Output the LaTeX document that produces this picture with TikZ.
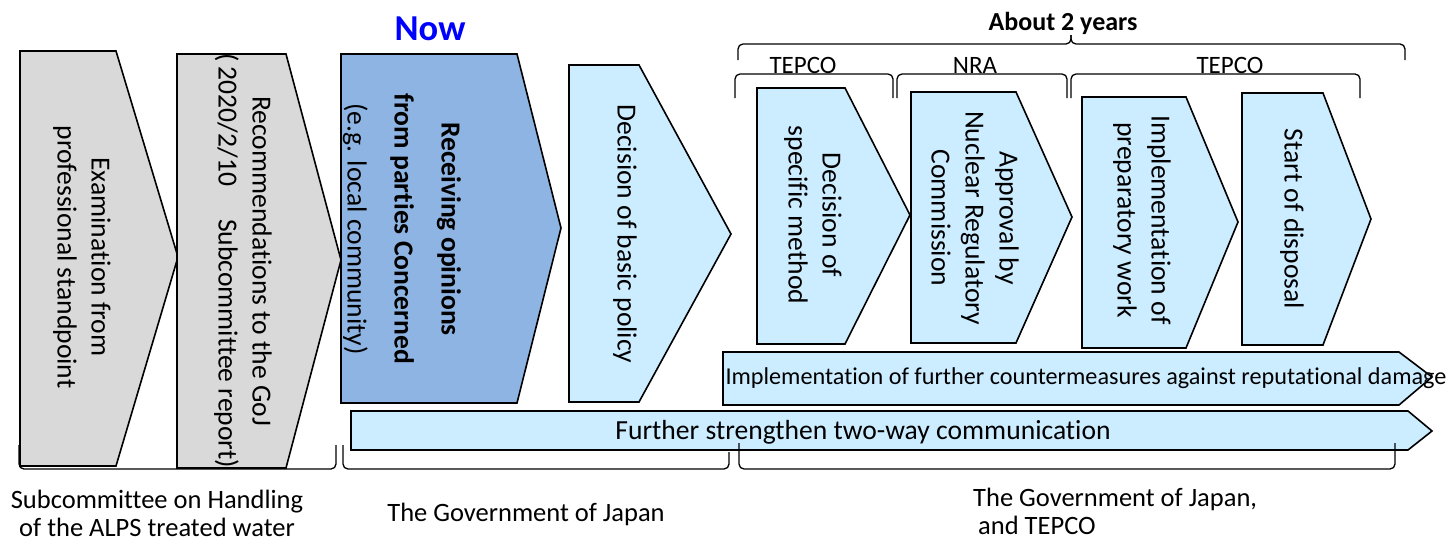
\documentclass[tikz,border=0pt]{standalone}
\usepackage{fontspec}
\setmainfont{Carlito}[Ligatures=NoCommon]
\usepackage{xcolor}
\definecolor{chevgrey}{HTML}{D9D9D9}
\definecolor{chevdark}{HTML}{8DB4E2}
\definecolor{chevlight}{HTML}{CCECFF}
\definecolor{nowblue}{HTML}{0000FF}
\tikzset{chevron/.style={draw=black, line width=1.6pt, line join=miter},
 vtext/.style={rotate=-90, align=center, inner sep=0pt, font=\fontsize{27.6}{34}\selectfont},
 htext/.style={inner sep=0pt, anchor=base, font=\fontsize{27.6}{33}\selectfont},
 whotext/.style={inner sep=0pt, font=\fontsize{26.5}{28}\selectfont},
 partytext/.style={inner sep=0pt, anchor=base, font=\fontsize{25}{30}\selectfont},
 brkt/.style={draw=black, line width=1.3pt, rounded corners=5pt},
 }

\begin{document}
\begin{tikzpicture}[x=1pt, y=-1pt]
        \useasboundingbox (0,0) rectangle (1452,541);
        \foreach \l/\t/\b/\p/\m/\d/\c in {20/51/116/178/257/466/chevgrey,
            177/54/286/341/260/468/chevgrey, 341/54/517/561/228/403/chevdark,
            569/65/639/731/234/402/chevlight, 757/88/845/910/215/344/chevlight,
            911/92/1016/1072/217/343/chevlight, 1082/97/1186/1238/222/348/chevlight,
            1242/93/1323/1371/219/345/chevlight} {
            \draw[chevron, fill=\c] (\l,\t) -- (\b,\t) -- (\p,\m) -- (\b,\d) -- (\l,\d) -- cycle;
        }
        \draw[chevron, fill=chevlight] (723,352) -- (1399,352) -- (1432,377) -- (1399,405) -- (723,405) -- cycle;
        \draw[chevron, fill=chevlight] (351,411) -- (1408,411) -- (1432,431) -- (1408,450) -- (351,450) -- cycle;
        \node[vtext] (exam) at (82,257) {Examination from\\professional standpoint};
        \node[vtext] (recom) at (243,261) {Recommendations to the GoJ\\(\,2020/2/10\hspace{1.2em}Subcommittee report)};
        \node[vtext, font=\bfseries\fontsize{27.6}{47}\selectfont] (opin) at (402,229) {Receiving opinions\\from parties Concerned\\\mdseries(e.g. local community)};
        \node[vtext] (basic) at (625,234) {Decision of basic policy};
        \node[vtext] (method) at (813,215) {Decision of\\specific method};
        \node[vtext] (approval) at (975,218) {Approval by\\Nuclear Regulatory\\Commission};
        \node[vtext] (prep) at (1142,220) {Implementation of\\preparatory work};
        \node[vtext] (start) at (1292,219) {Start of disposal};
        \node[htext, font=\fontsize{24.2}{29}\selectfont] (rumor) at (1086,384) {Implementation of further countermeasures against reputational damage};
        \node[htext] (comm) at (863,439) {Further strengthen two-way communication};
        \node[htext, text=nowblue, font=\bfseries\fontsize{36.5}{40}\selectfont] (now) at (430,40) {Now};
        \node[partytext, font=\bfseries\fontsize{26}{30}\selectfont] (years) at (1063,30) {About 2 years};
        \node[partytext] (tepcoa) at (803,73) {TEPCO};
        \node[partytext] (nra) at (975,73) {NRA};
        \node[partytext] (tepcob) at (1230,73) {TEPCO};
        \draw[brkt] (738,60) -- (738,44) -- (1071,44) -- (1071,35);
        \draw[brkt] (1405,60) -- (1405,44) -- (1071,44) -- (1071,35);
        \foreach \a/\z in {735/893, 897/1067, 1071/1360} {
            \draw[brkt] (\a,98) -- (\a,74) -- (\z,74) -- (\z,98);
        }
        \draw[brkt] (19,445) -- (19,469) -- (336,469) -- (336,445);
        \draw[brkt] (343,445) -- (343,469) -- (729,469) -- (729,452);
        \draw[brkt] (739,443) -- (739,469) -- (1395,469) -- (1395,443);
        \node[whotext, align=center] (subcom) at (157,513) {Subcommittee on Handling\\of the ALPS treated water};
        \node[whotext] (goj) at (526,514) {The Government of Japan};
        \node[whotext, align=left, anchor=west] (gojtepco) at (973,511) {The Government of Japan,\\\hspace{5pt}and TEPCO};
\end{tikzpicture}
\end{document}
